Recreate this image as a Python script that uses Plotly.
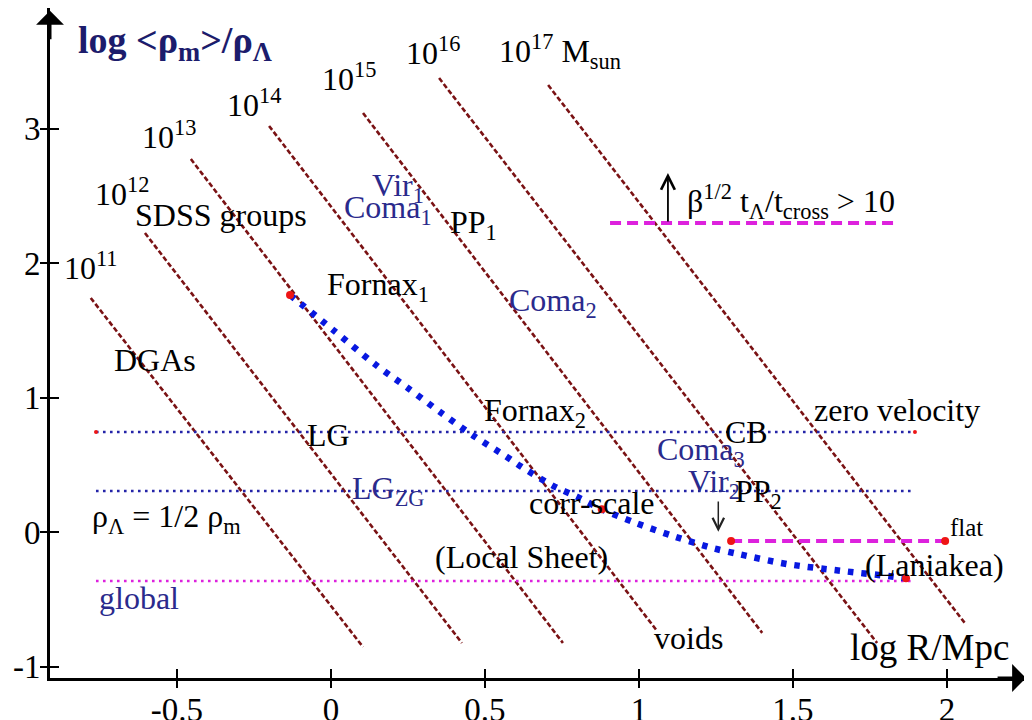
import plotly.graph_objects as go

# ---------------- data ----------------
# iso-mass lines (log M = 11..17), read endpoints
mass_exp = [11, 12, 13, 14, 15, 16, 17]
mass_x0 = [-0.78, -0.604, -0.455, -0.201, 0.104, 0.351, 0.705]
mass_y0 = [1.74, 2.223, 2.773, 3.019, 3.115, 3.375, 3.323]
mass_x1 = [0.104, 0.425, 0.753, 1.06, 1.40, 1.773, 2.058]
mass_y1 = [-0.855, -0.825, -0.825, -0.74, -0.75, -0.825, -0.677]

# blue dotted curve (mean density vs radius)
curve_x = [-0.133, 0.008, 0.143, 0.251, 0.357, 0.462, 0.570, 0.614, 0.722,
           0.798, 0.879, 0.992, 1.117, 1.241, 1.323, 1.48, 1.653, 1.826, 1.867]
curve_y = [1.762, 1.50, 1.247, 1.068, 0.887, 0.716, 0.560, 0.491, 0.342,
           0.263, 0.169, 0.065, -0.035, -0.121, -0.164, -0.238, -0.288, -0.332, -0.344]
curve_red_x = [-0.133, 0.879, 1.867]
curve_red_y = [1.762, 0.169, -0.344]

# horizontal reference levels
lg_level = 0.743        # zero velocity (LG)
lgzg_level = 0.305      # rho_L = 1/2 rho_m
global_level = -0.364   # global
h_x = [-0.763, 1.896]

crit_level = 2.297      # beta^{1/2} t_L/t_cross > 10
crit_x = [0.906, 1.825]
flat_level = -0.067
flat_x = [1.299, 1.994]

x_tickvals = [-0.5, 0, 0.5, 1, 1.5, 2]
x_ticktext = ["-0.5", "0", "0.5", "1", "1.5", "2"]
y_tickvals = [-1, 0, 1, 2, 3]
y_ticktext = ["-1", "0", "1", "2", "3"]

XR = [-0.9123, 2.2695]
YR = [-1.0855, 3.896]

# ---------------- styles ----------------
FONT = "Liberation Serif, Times New Roman, serif"
MASS_COL = "#7a1214"
BLUE_DOT = "#2424a8"
MAG = "#dd22dd"
CURVE = "#0818e0"
RED = "#ee1515"
LBL_BLUE = "#2a2a8c"
NAVY = "#1c1c6c"

fig = go.Figure()

for i in range(len(mass_exp)):
    fig.add_trace(go.Scatter(x=[mass_x0[i], mass_x1[i]], y=[mass_y0[i], mass_y1[i]],
                             mode="lines", line=dict(color=MASS_COL, width=2.6, dash="5px,2.5px"),
                             hoverinfo="skip"))

for lev, col in [(lg_level, BLUE_DOT), (lgzg_level, BLUE_DOT), (global_level, MAG)]:
    fig.add_trace(go.Scatter(x=h_x, y=[lev, lev], mode="lines",
                             line=dict(color=col, width=2.6, dash="2.6px,4.4px"), hoverinfo="skip"))

fig.add_trace(go.Scatter(x=h_x, y=[lg_level, lg_level], mode="markers",
                         marker=dict(color=RED, size=4), hoverinfo="skip"))

fig.add_trace(go.Scatter(x=crit_x, y=[crit_level, crit_level], mode="lines",
                         line=dict(color=MAG, width=4, dash="11px,6px"), hoverinfo="skip"))
fig.add_trace(go.Scatter(x=flat_x, y=[flat_level, flat_level], mode="lines",
                         line=dict(color=MAG, width=4, dash="11px,6px"), hoverinfo="skip"))
fig.add_trace(go.Scatter(x=flat_x, y=[flat_level, flat_level], mode="markers",
                         marker=dict(color=RED, size=8), hoverinfo="skip"))

fig.add_trace(go.Scatter(x=curve_x, y=curve_y, mode="lines",
                         line=dict(color=CURVE, width=6.5, dash="5.5px,8px", shape="spline", smoothing=0.8),
                         hoverinfo="skip"))
fig.add_trace(go.Scatter(x=curve_red_x, y=curve_red_y, mode="markers",
                         marker=dict(color=RED, size=8), hoverinfo="skip"))

# dummy trace to materialise the overlay axes (outer half of crossing ticks)
fig.add_trace(go.Scatter(x=[], y=[], xaxis="x2", yaxis="y2", hoverinfo="skip"))

S = 32
labels = [
    ("10<sup>11</sup>", -0.873, 1.978, "black", S),
    ("10<sup>12</sup>", -0.773, 2.528, "black", S),
    ("10<sup>13</sup>", -0.620, 2.952, "black", S),
    ("10<sup>14</sup>", -0.344, 3.190, "black", S),
    ("10<sup>15</sup>", -0.036, 3.383, "black", S),
    ("10<sup>16</sup>", 0.237, 3.576, "black", S),
    ("10<sup>17</sup> M<sub>sun</sub>", 0.539, 3.569, "black", S),
    ("SDSS groups", -0.643, 2.357, "black", S),
    ("Vir<sub>1</sub>", 0.127, 2.565, LBL_BLUE, S),
    ("Coma<sub>1</sub>", 0.036, 2.401, LBL_BLUE, S),
    ("PP<sub>1</sub>", 0.380, 2.283, "black", S),
    ("Fornax<sub>1</sub>", -0.019, 1.829, "black", S),
    ("Coma<sub>2</sub>", 0.571, 1.710, LBL_BLUE, S),
    ("DGAs", -0.711, 1.279, "black", S),
    ("LG", -0.084, 0.721, "black", S),
    ("LG<sub>ZG</sub>", 0.062, 0.305, LBL_BLUE, S),
    ("ρ<sub>Λ</sub> = 1/2 ρ<sub>m</sub>", -0.782, 0.097, "black", S),
    ("global", -0.760, -0.491, LBL_BLUE, S),
    ("(Local Sheet)", 0.331, -0.186, "black", S),
    ("Fornax<sub>2</sub>", 0.490, 0.885, "black", S),
    ("corr-scale", 0.636, 0.216, "black", S),
    ("Coma<sub>3</sub>", 1.052, 0.602, LBL_BLUE, S),
    ("Vir<sub>2</sub>", 1.153, 0.357, LBL_BLUE, S),
    ("CB", 1.273, 0.743, "black", S),
    ("PP<sub>2</sub>", 1.305, 0.283, "black", S),
    ("zero velocity", 1.562, 0.907, "black", S),
    ("flat", 2.003, 0.037, "black", 25),
    ("(Laniakea)", 1.727, -0.245, "black", S),
    ("voids", 1.042, -0.788, "black", S),
    ("log R/Mpc", 1.679, -0.862, "black", 37),
    ("β<sup>1/2</sup> t<sub>Λ</sub>/t<sub>cross</sub> &gt; 10", 1.149, 2.454, "black", S),
    ("<b>log &lt;ρ<sub>m</sub>&gt;/ρ<sub>Λ</sub></b>", -0.828, 3.636, NAVY, 38),
]

annotations = []
for txt, x, y, col, sz in labels:
    annotations.append(dict(text=txt, x=x, y=y, xref="x", yref="y", xanchor="left", yanchor="middle",
                            showarrow=False, font=dict(family=FONT, size=sz, color=col)))

# small arrows
annotations.append(dict(text="", x=1.094, y=2.669, ax=1.094, ay=2.297, xref="x", yref="y",
                        axref="x", ayref="y", showarrow=True, arrowhead=5, arrowsize=1.5,
                        arrowwidth=1.8, arrowcolor="black"))
annotations.append(dict(text="", x=1.2575, y=0.002, ax=1.2575, ay=0.238, xref="x", yref="y",
                        axref="x", ayref="y", showarrow=True, arrowhead=5, arrowsize=1.5,
                        arrowwidth=1.5, arrowcolor="#222222"))
# axis arrowheads
annotations.append(dict(text="", x=0.996, y=0, xref="paper", yref="paper", ax=-30, ay=0,
                        showarrow=True, arrowhead=1, arrowsize=1.55, arrowwidth=3, arrowcolor="black"))
annotations.append(dict(text="", x=0, y=0.996, xref="paper", yref="paper", ax=0, ay=30,
                        showarrow=True, arrowhead=1, arrowsize=1.55, arrowwidth=3, arrowcolor="black"))

axis_common = dict(showgrid=False, zeroline=False, showline=True, linecolor="black", linewidth=3,
                   ticks="inside", ticklen=9, tickwidth=2, tickcolor="black", automargin=False,
                   tickfont=dict(family=FONT, size=33, color="black"))
overlay_common = dict(ticks="outside", ticklen=9, tickwidth=2, tickcolor="black", showticklabels=False,
                      showgrid=False, zeroline=False, showline=False, automargin=False, tickmode="array")

# page body has an 8px margin, so the figure is 8px smaller than the window
fig.update_layout(
    width=1024, height=712,
    margin=dict(l=42, r=2, t=0, b=42, autoexpand=False),
    paper_bgcolor="white", plot_bgcolor="white",
    showlegend=False,
    xaxis=dict(range=XR, tickmode="array", tickvals=x_tickvals, ticktext=x_ticktext, **axis_common),
    yaxis=dict(range=YR, tickmode="array", tickvals=y_tickvals, ticktext=y_ticktext, **axis_common),
    xaxis2=dict(range=XR, overlaying="x", anchor="y2", tickvals=x_tickvals, **overlay_common),
    yaxis2=dict(range=YR, overlaying="y", anchor="x2", tickvals=y_tickvals, **overlay_common),
    annotations=annotations,
)

fig.write_html("out.html")
